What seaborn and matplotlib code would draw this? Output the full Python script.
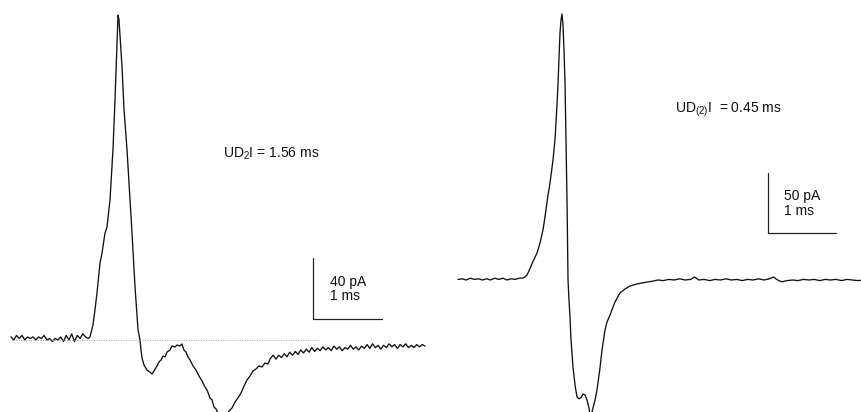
import matplotlib
matplotlib.use("Agg")
import matplotlib.pyplot as plt
import pandas as pd
import seaborn as sns

# Whole-cell current traces (time in ms, current in pA, baseline = 0)
t_a = [0.00, 0.04, 0.08, 0.12, 0.16, 0.20, 0.24, 0.28, 0.32, 0.36, 0.40, 0.44, 0.48, 0.52,
       0.56, 0.60, 0.64, 0.68, 0.72, 0.76, 0.80, 0.84, 0.88, 0.92, 0.96, 1.00, 1.04, 1.08, 1.12,
       1.145, 1.188, 1.217, 1.246, 1.290, 1.319, 1.362, 1.391, 1.435, 1.478, 1.507, 1.536, 1.551,
       1.565, 1.609, 1.638, 1.681, 1.725, 1.754, 1.797, 1.841, 1.870,
       1.884, 1.899, 1.928, 1.971, 2.014, 2.043, 2.072, 2.116, 2.145, 2.174, 2.203, 2.232, 2.261,
       2.304, 2.333, 2.377, 2.406, 2.449, 2.478, 2.507, 2.536, 2.565, 2.594, 2.638, 2.681, 2.725,
       2.768, 2.812, 2.841, 2.884, 2.913, 2.942, 2.971, 3.000, 3.058, 3.116, 3.159, 3.203, 3.246,
       3.290, 3.333, 3.377, 3.420, 3.464, 3.507, 3.551, 3.594, 3.638, 3.681, 3.725,
       3.76, 3.80, 3.84, 3.88, 3.92, 3.96, 4.00, 4.04, 4.08, 4.12, 4.16, 4.20, 4.24, 4.28, 4.32,
       4.36, 4.40, 4.44, 4.48, 4.52, 4.56, 4.60, 4.64, 4.68, 4.72, 4.76, 4.80, 4.84, 4.88, 4.92,
       4.96, 5.00, 5.04, 5.08, 5.12, 5.16, 5.20, 5.24, 5.28, 5.32, 5.36, 5.40, 5.44, 5.48, 5.52,
       5.56, 5.60, 5.64, 5.68, 5.72, 5.76, 5.80, 5.84, 5.88, 5.92, 5.96, 6.00]
i_a = [2, 0, 3, 1, 3, 0, 2, 1, 2, 0, 2, 1, 3, 0,
       1, -1, 1, 0, 2, -1, 3, 0, 4, -1, 3, 1, 4, 2, 1,
       2, 9.8, 19.7, 30.8, 50.5, 57, 70, 74, 92, 125, 157, 195, 213,
       210, 179, 151, 125, 92, 70, 35, 6.6, 0,
       -6.6, -11.8, -16.4, -19.7, -21, -22.3, -20.3, -17, -14.4, -13.1, -10.5, -11.1, -7.9,
       -6.6, -3.9, -4.6, -3.3, -3.9, -2.6, -6.6, -7.9, -11.1, -13.1, -17, -19.7, -23.6,
       -26.9, -30.8, -32.8, -38, -39.3, -43.9, -45.2, -47.9, -51, -49.8, -46.6, -44.6, -40.7,
       -38, -34.8, -30.2, -26.2, -23.6, -20.3, -19, -17, -17.7, -15.1, -15.7,
       -12, -10, -12.5, -10, -11.5, -9, -11, -8, -10, -7.5, -9.5, -6.5, -8.5, -6, -8,
       -5, -7.5, -5.5, -7, -4.5, -6.5, -5, -7, -4, -6, -4.5, -7, -5, -6, -3.5,
       -6, -4.5, -6.5, -4, -5.5, -3, -5.5, -2.5, -5, -3.5, -6, -3.5, -5, -2.5, -4.5,
       -3, -5.5, -3, -4.5, -2.5, -5, -3.5, -5, -3, -4.5, -3, -4]

t_b = [0.00, 0.06, 0.12, 0.18, 0.24, 0.30, 0.36, 0.42, 0.48, 0.54, 0.60, 0.66, 0.72, 0.78,
       0.84, 0.90,
       0.956, 0.985, 1.015, 1.059, 1.103, 1.162, 1.206, 1.250, 1.279, 1.324, 1.353, 1.397, 1.426,
       1.456, 1.471, 1.500, 1.515, 1.529, 1.544, 1.559, 1.574, 1.588, 1.603, 1.618, 1.632, 1.647,
       1.662, 1.691, 1.721, 1.750, 1.779, 1.809, 1.838, 1.868, 1.897, 1.926, 1.941, 1.971, 1.985,
       2.015, 2.044, 2.088, 2.118, 2.162, 2.191, 2.235, 2.309, 2.382, 2.456, 2.529, 2.632, 2.779,
       2.86, 2.94, 3.02, 3.10, 3.18, 3.26, 3.34, 3.42, 3.48, 3.54, 3.62, 3.70, 3.78, 3.86, 3.94,
       4.02, 4.10, 4.18, 4.26, 4.34, 4.42, 4.50, 4.58, 4.64, 4.70, 4.76, 4.84, 4.92, 5.00, 5.08,
       5.16, 5.24, 5.32, 5.40, 5.48, 5.56, 5.64, 5.72, 5.80, 5.88, 5.96]
i_b = [0.5, 1, 0, 1.5, 0.5, 1, 0, 1, 0, 1.5, 0.5, 1.5, 0, 1,
       0.5, 1.5,
       1.7, 2.5, 4.2, 9.5, 15.5, 22.5, 30.8, 41.7, 52.5, 70.8, 80.8, 100, 116.7,
       145.8, 164, 206, 216.7, 221.7, 212.5, 191.7, 164, 116.7, 66.7, 0, -16.7, -30.8,
       -50, -72.5, -87.5, -97.5, -99, -98, -95, -95.8, -100, -106.7, -111.7, -110, -106.7,
       -100, -91.7, -73.3, -58.3, -41.7, -35, -29.2, -18.3, -10.8, -7.5, -5, -3.3, -1.7,
       -1, 0, -0.5, 0.5, 0, 1, 0, 0.5, 2.5, 0, 0.5, -0.5, 0.5, 0, 1,
       0, 0.5, -0.5, 0.5, 0, 1, 0, 1, 2.5, 0, -1.5, -0.5, 0, -0.5, 0.5,
       0, 0.5, -0.5, 0.5, 0, 0.5, -0.5, 0.5, 0, -0.5, 0]

# Scale bars: (x origin ms, y origin pA, pA length, ms length)
bar_a = (4.377, 13.8, 40, 1)
bar_b = (4.559, 39.2, 50, 1)
labels_a = ["40 pA", "1 ms"]
labels_b = ["50 pA", "1 ms"]
notes = [r"UD$_\mathregular{2}$I = 1.56 ms", r"UD$_\mathregular{(2)}$I  = 0.45 ms"]

sns.set_style("white")
plt.rcParams["font.family"] = ["Liberation Sans", "DejaVu Sans"]
plt.rcParams["mathtext.fontset"] = "custom"
plt.rcParams["mathtext.rm"] = "Liberation Sans"
plt.rcParams["text.color"] = "#111111"

W, H = 861, 412
fig = plt.figure(figsize=(W / 100, H / 100), dpi=100)
ax_a = fig.add_axes([0, 0, 430 / W, 1])
ax_b = fig.add_axes([430 / W, 0, 431 / W, 1])

df_a = pd.DataFrame({"t": t_a, "i": i_a})
df_b = pd.DataFrame({"t": t_b, "i": i_b})

line_kw = dict(color="#111111", linewidth=0.95, sort=False, estimator=None)
sns.lineplot(data=df_a, x="t", y="i", ax=ax_a, **line_kw)
sns.lineplot(data=df_b, x="t", y="i", ax=ax_b, **line_kw)

# dotted zero-current reference on the first trace
ax_a.plot([0, 4.45], [0, 0], linestyle=(0, (1, 1.5)), color="#aaaaaa", linewidth=0.7)

for ax, bar in ((ax_a, bar_a), (ax_b, bar_b)):
    x0, y0, dy, dx = bar
    ax.plot([x0, x0, x0 + dx], [y0 + dy, y0, y0], color="#222222", linewidth=0.9)

ax_a.text(4.62, 38, labels_a[0], fontsize=10, va="center", ha="left")
ax_a.text(4.62, 28.9, labels_a[1], fontsize=10, va="center", ha="left")
ax_b.text(4.79, 70, labels_b[0], fontsize=10, va="center", ha="left")
ax_b.text(4.79, 57.5, labels_b[1], fontsize=10, va="center", ha="left")

ax_a.text(3.07, 122, notes[0], fontsize=10, va="center", ha="left")
ax_b.text(3.19, 141.7, notes[1], fontsize=10, va="center", ha="left")

ax_a.set_xlim(-11 / 69, 419 / 69)
ax_a.set_ylim(-72 / 1.525, 340 / 1.525)
ax_b.set_xlim(-28 / 68, 403 / 68)
ax_b.set_ylim(-132 / 1.2, 280 / 1.2)

for ax in (ax_a, ax_b):
    ax.set_axis_off()

fig.savefig("out.png", dpi=100)
